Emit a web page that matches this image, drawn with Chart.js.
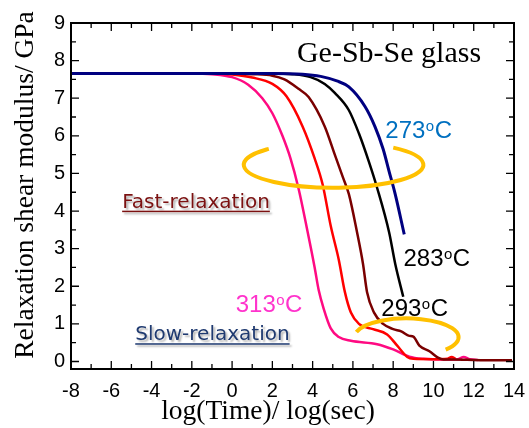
<!DOCTYPE html>
<html>
<head>
<meta charset="utf-8">
<script src="https://cdn.jsdelivr.net/npm/chart.js@4.4.0/dist/chart.umd.min.js"></script>
<style>
    html, body { margin: 0; padding: 0; background: #fff; }
    #chart { display: block; }
</style>
</head>
<body>
<canvas id="chart" width="529" height="428"></canvas>
<script>
// ---------- Data ----------
const xTicks = [-8, -6, -4, -2, 0, 2, 4, 6, 8, 10, 12, 14];
const yTicks = [0, 1, 2, 3, 4, 5, 6, 7, 8, 9];

// 273 C (navy)
const x273 = [-8, 2, 3.5, 4.4, 5.2, 5.8, 6.6, 7.1, 7.5, 7.8, 8.1, 8.55];
const y273 = [7.66, 7.66, 7.64, 7.58, 7.46, 7.3, 6.78, 6.24, 5.65, 5.05, 4.45, 3.38];

// 283 C (black)
const x283 = [-8, 2, 3, 3.9, 4.6, 5.1, 5.8, 6.3, 6.8, 7.2, 7.8, 8.1, 8.5];
const y283 = [7.66, 7.66, 7.64, 7.56, 7.38, 7.14, 6.68, 6.06, 5.3, 4.62, 3.43, 2.6, 1.72];

// 293 C (maroon)
const x293 = [-8, 0, 1, 2, 2.6, 3.3, 3.8, 4.6, 5.1, 5.5, 5.8, 6.2, 6.5, 6.7, 7.05, 7.5, 8.0, 8.4, 8.8, 9.0, 9.3, 9.8, 10.2, 10.5, 11, 12, 13, 13.9];
const y293 = [7.66, 7.66, 7.64, 7.6, 7.5, 7.25, 7.03, 6.25, 5.5, 4.9, 4.45, 3.45, 2.6, 1.85, 1.3, 1.0, 0.86, 0.8, 0.68, 0.66, 0.42, 0.27, 0.11, 0.05, 0.05, 0.04, 0.03, 0.03];

// 303 C (red, unlabelled)
const x303 = [-8, -1, 0, 1, 2, 2.7, 3.5, 4.1, 4.5, 4.9, 5.3, 5.6, 5.9, 6.3, 7.0, 7.7, 8.2, 8.7, 9.0, 10.0, 10.7, 10.9, 11.1];
const y303 = [7.66, 7.66, 7.63, 7.55, 7.38, 7.05, 6.25, 5.4, 4.7, 3.6, 2.7, 1.85, 1.3, 1.0, 0.86, 0.72, 0.42, 0.12, 0.07, 0.06, 0.07, 0.12, 0.07];

// 313 C (pink)
const x313 = [-8, -2, -1, 0, 0.8, 1.5, 2.0, 2.5, 2.9, 3.3, 3.75, 4.1, 4.3, 4.55, 4.9, 5.3, 5.9, 7.2, 8.0, 8.8, 9.5, 10.5, 11.2, 11.5, 11.8, 12.2];
const y313 = [7.66, 7.66, 7.64, 7.56, 7.36, 7.0, 6.6, 6.0, 5.4, 4.6, 3.45, 2.5, 1.9, 1.4, 0.88, 0.65, 0.55, 0.46, 0.32, 0.13, 0.07, 0.05, 0.06, 0.12, 0.06, 0.04];

// ---------- Helpers ----------
function pairs(xs, ys) {
    return xs.map((x, i) => ({ x: x, y: ys[i] }));
}

function series(xs, ys, color, width) {
    return {
        data: pairs(xs, ys),
        borderColor: color,
        borderWidth: width,
        pointRadius: 0,
        fill: false,
        cubicInterpolationMode: "monotone"
    };
}

const SANS = "'Liberation Sans', Arial, sans-serif";
const SERIF = "'Liberation Serif', 'Times New Roman', serif";
const VERD = "'DejaVu Sans', Verdana, sans-serif";

// ---------- Annotations (data coordinates) ----------
const tempLabels = [
    { t: "273", x: 7.61, y: 5.95, color: "#0070C0" },
    { t: "283", x: 8.51, y: 2.53, color: "#000000" },
    { t: "293", x: 7.41, y: 1.20, color: "#000000" },
    { t: "313", x: 0.18, y: 1.31, color: "#FF33CC" }
];

const noteLabels = [
    { t: "Fast-relaxation", x: -5.46, y: 4.09, color: "#7B1111" },
    { t: "Slow-relaxation", x: -4.81, y: 0.565, color: "#1F3A70" }
];

const rings = [
    { cx: 5.04, cy: 5.23, rx: 4.46, ry: 0.61, a0: -0.844, a1: 3.907 },
    { cx: 8.66, cy: 0.645, rx: 2.59, ry: 0.50, a0: -2.858, a1: 0.72 }
];

function drawTemp(ctx, txt, px, py, color) {
    ctx.fillStyle = color;
    ctx.textAlign = "left";
    ctx.textBaseline = "alphabetic";
    ctx.font = "24px " + SANS;
    ctx.fillText(txt, px, py);
    let w = ctx.measureText(txt).width + 0.5;
    ctx.font = "15px " + SANS;
    ctx.fillText("o", px + w, py - 7);
    w += ctx.measureText("o").width + 0.5;
    ctx.font = "24px " + SANS;
    ctx.fillText("C", px + w, py);
}

function drawNote(ctx, txt, px, py, color) {
    ctx.save();
    ctx.font = "20px " + VERD;
    ctx.textAlign = "left";
    ctx.textBaseline = "alphabetic";
    ctx.shadowColor = "rgba(0,0,0,0.3)";
    ctx.shadowOffsetX = 2;
    ctx.shadowOffsetY = 2;
    ctx.shadowBlur = 2;
    ctx.fillStyle = color;
    ctx.fillText(txt, px, py);
    const w = ctx.measureText(txt).width;
    ctx.fillRect(px, py + 3, w, 1.5);
    ctx.restore();
}

// ---------- Frame, ticks and notes plugin ----------
const decorations = {
    id: "decorations",
    afterDatasetsDraw(chart) {
        const ctx = chart.ctx;
        const xs = chart.scales.x;
        const ys = chart.scales.y;
        const { left, right, top, bottom } = chart.chartArea;

        ctx.save();

        // orange rings
        ctx.strokeStyle = "#FFC000";
        ctx.lineWidth = 4;
        rings.forEach(r => {
            const cx = xs.getPixelForValue(r.cx);
            const cy = ys.getPixelForValue(r.cy);
            const rx = xs.getPixelForValue(r.cx + r.rx) - cx;
            const ry = cy - ys.getPixelForValue(r.cy + r.ry);
            ctx.beginPath();
            ctx.ellipse(cx, cy, rx, ry, 0, r.a0, r.a1);
            ctx.stroke();
        });

        // box
        ctx.strokeStyle = "#000";
        ctx.lineWidth = 2;
        ctx.strokeRect(left, top, right - left, bottom - top);

        // inward ticks
        ctx.lineWidth = 1.3;
        ctx.beginPath();
        for (let v = xTicks[0]; v <= xTicks[xTicks.length - 1]; v++) {
            const px = xs.getPixelForValue(v);
            const len = v % 2 === 0 ? 8 : 5;
            ctx.moveTo(px, bottom); ctx.lineTo(px, bottom - len);
            ctx.moveTo(px, top); ctx.lineTo(px, top + len);
        }
        for (let v = yTicks[0]; v <= yTicks[yTicks.length - 1]; v += 0.5) {
            const py = ys.getPixelForValue(v);
            const len = Number.isInteger(v) ? 8 : 5;
            ctx.moveTo(left, py); ctx.lineTo(left + len, py);
            ctx.moveTo(right, py); ctx.lineTo(right - len, py);
        }
        ctx.stroke();

        // title inside plot
        ctx.fillStyle = "#000";
        ctx.font = "30px " + SERIF;
        ctx.textAlign = "left";
        ctx.textBaseline = "alphabetic";
        ctx.fillText("Ge-Sb-Se glass", xs.getPixelForValue(3.22), ys.getPixelForValue(7.97));

        tempLabels.forEach(l => {
            drawTemp(ctx, l.t, xs.getPixelForValue(l.x), ys.getPixelForValue(l.y), l.color);
        });
        noteLabels.forEach(l => {
            drawNote(ctx, l.t, xs.getPixelForValue(l.x), ys.getPixelForValue(l.y), l.color);
        });

        // axis titles
        ctx.fillStyle = "#000";
        ctx.font = "27.5px " + SERIF;
        ctx.textAlign = "center";
        ctx.textBaseline = "alphabetic";
        ctx.fillText("log(Time)/ log(sec)", 268, 419);

        ctx.save();
        ctx.translate(33, 185);
        ctx.rotate(-Math.PI / 2);
        ctx.fillText("Relaxation shear modulus/ GPa", 0, 0);
        ctx.restore();

        ctx.restore();
    }
};

// ---------- Chart ----------
const ctx = document.getElementById("chart").getContext("2d");

const chart = new Chart(ctx, {
    type: "line",
    data: {
        datasets: [
            series(x273, y273, "#000080", 3),
            series(x283, y283, "#000000", 2.5),
            series(x293, y293, "#7A0000", 2.5),
            series(x303, y303, "#FF0000", 2.5),
            series(x313, y313, "#FF0A82", 2.5)
        ]
    },
    options: {
        responsive: false,
        animation: false,
        devicePixelRatio: 1,
        layout: { padding: { top: 23, right: 15, left: 0, bottom: 0 } },
        plugins: {
            legend: { display: false },
            tooltip: { enabled: false }
        },
        scales: {
            x: {
                type: "linear",
                min: -8,
                max: 14,
                grid: { display: false, drawTicks: false },
                border: { display: false },
                ticks: {
                    color: "#000",
                    font: { family: SANS, size: 20 },
                    padding: 10,
                    maxRotation: 0
                },
                afterBuildTicks: s => { s.ticks = xTicks.map(v => ({ value: v })); },
                afterFit: s => {
                    s.height = 59;
                    s.paddingLeft = 0;
                    s.paddingRight = 0;
                }
            },
            y: {
                type: "linear",
                min: -0.2,
                max: 9,
                grid: { display: false, drawTicks: false },
                border: { display: false },
                ticks: {
                    color: "#000",
                    font: { family: SANS, size: 20 },
                    padding: 6
                },
                afterBuildTicks: s => { s.ticks = yTicks.map(v => ({ value: v })); },
                afterFit: s => {
                    s.width = 71;
                    s.paddingTop = 0;
                    s.paddingBottom = 0;
                }
            }
        }
    },
    plugins: [decorations]
});
</script>
</body>
</html>
